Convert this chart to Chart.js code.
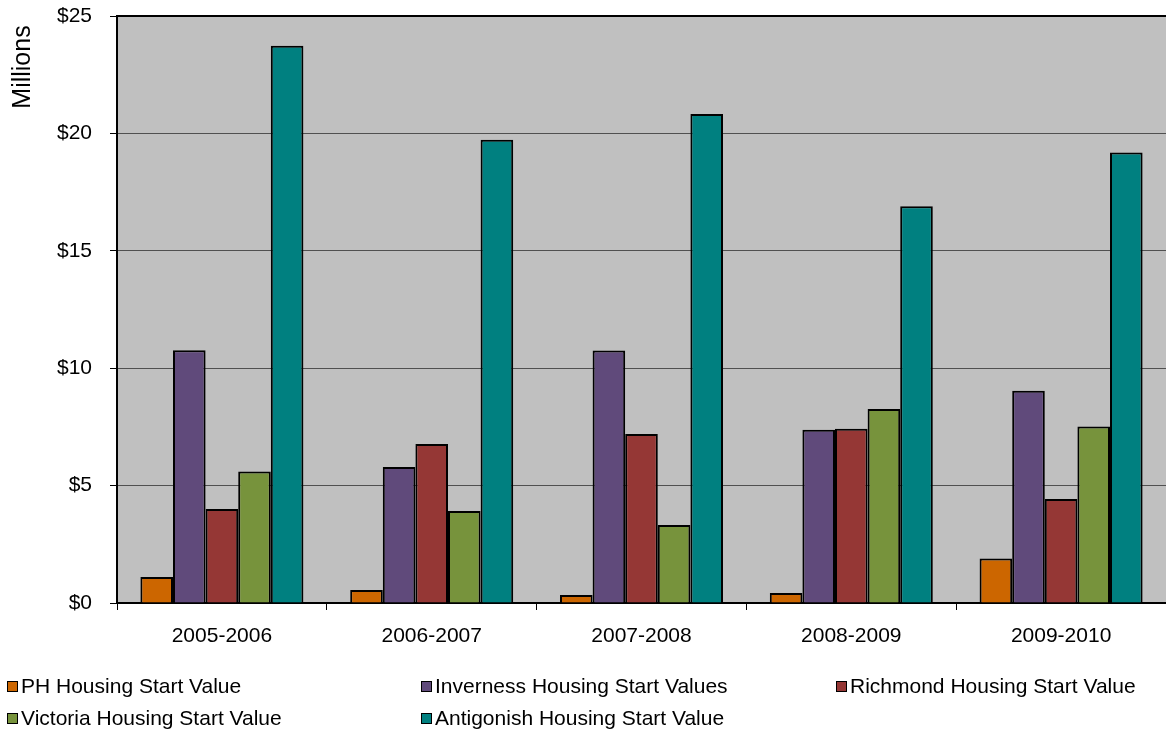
<!DOCTYPE html>
<html>
<head>
<meta charset="utf-8">
<script src="https://cdn.jsdelivr.net/npm/chart.js@4/dist/chart.umd.min.js"></script>
<style>
  html,body{margin:0;padding:0;background:#fff;}
  #wrap{width:1166px;height:731px;position:relative;}
</style>
</head>
<body>
<div id="wrap"><canvas id="chart" width="1166" height="731"></canvas></div>
<script>
// Housing start values by fiscal year, in millions of dollars
const years = ['2005-2006','2006-2007','2007-2008','2008-2009','2009-2010'];
const phValues = [1.11, 0.55, 0.34, 0.43, 1.89];
const invernessValues = [10.76, 5.79, 10.75, 7.38, 9.04];
const richmondValues = [4.0, 6.77, 7.2, 7.42, 4.43];
const victoriaValues = [5.6, 3.92, 3.32, 8.26, 7.52];
const antigonishValues = [23.73, 19.73, 20.83, 16.9, 19.19];
const yTicks = [0, 5, 10, 15, 20, 25];

const FONT = 'Liberation Sans, Arial, sans-serif';

function series(label, data, color){
  return {label, data, backgroundColor:color, borderColor:'#000', borderWidth:2,
    borderSkipped:'bottom', categoryPercentage:0.777, barPercentage:1};
}

// gray plot background + top border line
const plotBg = {
  id:'plotBg',
  beforeDraw(chart){
    const {ctx, chartArea:a} = chart;
    ctx.save();
    ctx.fillStyle = '#C0C0C0';
    ctx.fillRect(a.left, a.top, a.right-a.left, a.bottom-a.top);
    ctx.restore();
  },
  afterDraw(chart){
    const {ctx, chartArea:a} = chart;
    ctx.save();
    ctx.strokeStyle = '#000'; ctx.lineWidth = 2;
    ctx.beginPath(); ctx.moveTo(a.left-1, a.top); ctx.lineTo(a.right, a.top); ctx.stroke();
    ctx.restore();
  }
};

// axis title and three-column legend underneath the plot
const extras = {
  id:'extras',
  afterDraw(chart){
    const ctx = chart.ctx;
    ctx.save();
    ctx.fillStyle = '#000';
    ctx.font = '25px ' + FONT;
    ctx.translate(23, 67);
    ctx.rotate(-Math.PI/2);
    ctx.textAlign = 'center'; ctx.textBaseline = 'middle';
    ctx.fillText('Millions', 0, 0);
    ctx.restore();

    const colX = [7, 421, 836], rowY = [686, 718];
    ctx.save();
    ctx.font = '21px ' + FONT;
    ctx.textBaseline = 'middle'; ctx.textAlign = 'left';
    chart.data.datasets.forEach((ds, i) => {
      const x = colX[i % 3], y = rowY[Math.floor(i / 3)];
      ctx.fillStyle = ds.backgroundColor;
      ctx.fillRect(x, y-5, 11, 11);
      ctx.strokeStyle = '#000'; ctx.lineWidth = 1;
      ctx.strokeRect(x+0.5, y-4.5, 10, 10);
      ctx.fillStyle = '#000';
      ctx.fillText(ds.label, x+14, y+1);
    });
    ctx.restore();
  }
};

new Chart(document.getElementById('chart'), {
  type:'bar',
  data:{
    labels:years,
    datasets:[
      series('PH Housing Start Value', phValues, '#CC6600'),
      series('Inverness Housing Start Values', invernessValues, '#604A7B'),
      series('Richmond Housing Start Value', richmondValues, '#953735'),
      series('Victoria Housing Start Value', victoriaValues, '#77933C'),
      series('Antigonish Housing Start Value', antigonishValues, '#008080')
    ]
  },
  options:{
    responsive:false,
    animation:false,
    layout:{padding:{top:16, left:0, right:0, bottom:0}},
    plugins:{legend:{display:false}, tooltip:{enabled:false}},
    scales:{
      x:{
        offset:true,
        grid:{offset:true, drawOnChartArea:false, drawTicks:true, tickLength:7, tickColor:'#000', tickWidth:1},
        border:{color:'#000', width:2},
        ticks:{color:'#000', font:{family:FONT, size:21}, padding:14, maxRotation:0},
        afterFit(s){ s.height = 128; s.paddingLeft = 0; s.paddingRight = 0; }
      },
      y:{
        min:0, max:25,
        afterBuildTicks(s){ s.ticks = yTicks.map(v => ({value:v})); },
        grid:{color:'#505050', lineWidth:1, tickLength:7, tickColor:'#000'},
        border:{color:'#000', width:2},
        ticks:{color:'#000', font:{family:FONT, size:21}, padding:18, callback:v => '$' + v},
        afterFit(s){ s.width = 117; s.paddingTop = 0; s.paddingBottom = 0; }
      }
    }
  },
  plugins:[plotBg, extras]
});
</script>
</body>
</html>
